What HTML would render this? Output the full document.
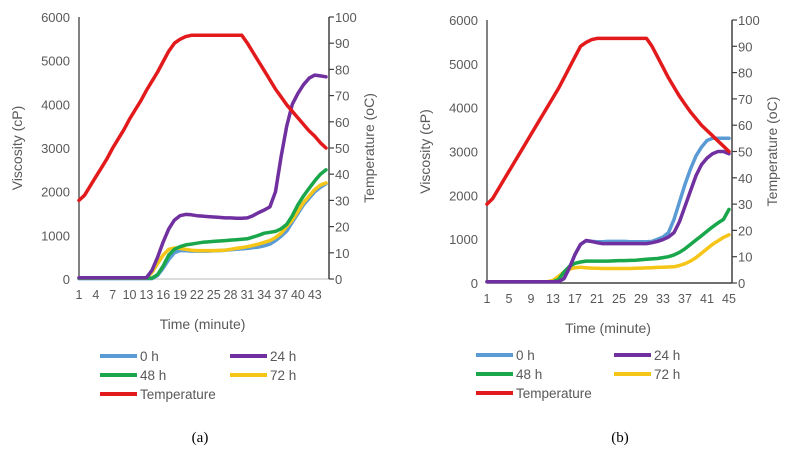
<!DOCTYPE html>
<html><head><meta charset="utf-8"><style>
body{margin:0;background:#fff;width:804px;height:452px;overflow:hidden}
svg{display:block}
text{font-family:"Liberation Sans",sans-serif;fill:#595959}
</style></head><body>
<svg id="s" width="804" height="452"></svg>
<script>
const temperatureA=[30,32,35.5,39,42.5,46,50,53.5,57,61,64.5,68,72,75.5,79,83,87,90,91.5,92.5,93,93,93,93,93,93,93,93,93,93,90,86.5,83,79.5,76,72.5,69.5,66.5,64,61.5,59,56.5,54.5,52,50];
const h24A=[30,30,30,30,30,30,30,30,30,30,30,30,30,200,500,850,1150,1350,1450,1480,1470,1450,1440,1430,1420,1410,1400,1400,1390,1390,1400,1450,1520,1580,1650,2000,2800,3500,4000,4250,4450,4600,4670,4650,4630];
const h48A=[20,20,20,20,20,20,20,20,20,20,20,20,20,20,100,300,550,680,740,780,800,820,840,850,860,870,880,890,900,910,920,960,1000,1050,1070,1090,1150,1250,1450,1700,1900,2080,2250,2400,2500];
const h72A=[20,20,20,20,20,20,20,20,20,20,20,20,20,150,350,550,680,710,700,680,660,650,650,650,650,655,660,680,700,720,740,770,800,840,880,950,1050,1200,1350,1550,1750,1900,2050,2150,2200];
const h0A=[10,10,10,10,10,10,10,10,10,10,10,10,10,10,80,250,450,600,650,650,640,640,640,640,645,650,660,670,680,690,700,720,730,760,800,880,980,1100,1300,1500,1700,1850,2000,2100,2180];
const temperatureB=[30,32,35.5,39,42.5,46,49.5,53,56.5,60,63.5,67,70.5,74,78,82,86,90,91.5,92.5,93,93,93,93,93,93,93,93,93,93,90,86,82,78,74.5,71,68,65,62.5,60,58,56,54,52,50];
const h24B=[30,30,30,30,30,30,30,30,30,30,30,30,30,30,100,350,650,880,970,950,920,900,900,900,900,900,900,900,900,900,920,950,990,1050,1150,1400,1750,2100,2450,2700,2850,2950,3000,3000,2950];
const h0B=[30,30,30,30,30,30,30,30,30,30,30,30,30,30,100,350,650,880,960,950,940,940,950,950,950,950,940,940,940,940,950,1000,1050,1150,1450,1850,2250,2600,2900,3100,3250,3300,3300,3300,3300];
const h48B=[30,30,30,30,30,30,30,30,30,30,30,30,30,80,250,380,450,480,500,500,500,500,500,505,510,510,515,520,530,540,550,560,580,600,640,700,780,880,980,1080,1180,1280,1370,1450,1680];
const h72B=[30,30,30,30,30,30,30,30,30,30,30,30,60,150,250,320,350,360,350,340,335,330,330,330,330,330,330,335,340,345,350,355,360,365,370,400,440,500,580,680,780,880,960,1040,1100];
const leftTicks=[0,1000,2000,3000,4000,5000,6000];
const rightTicks=[0,10,20,30,40,50,60,70,80,90,100];
const xLabelsA=[1,4,7,10,13,16,19,22,25,28,31,34,37,40,43];
const xLabelsB=[1,5,9,13,17,21,25,29,33,37,41,45];
const colors={h0:"#5b9bd5",h24:"#7030a0",h48:"#1aa64a",h72:"#f5c518",temp:"#e31a1c"};
const S=document.getElementById('s');
const NS="http://www.w3.org/2000/svg";
function el(t,a,p){const e=document.createElementNS(NS,t);for(const k in a)e.setAttribute(k,a[k]);(p||S).appendChild(e);return e;}
function chart(c){
  const g=el('g',{});
  
  
  const n=45;
  const X=t=>c.x0+(t-1)*(c.x1-c.x0)/(n-1);
  const YL=v=>c.y0-(v/6000)*(c.y0-c.y1);
  const YR=v=>c.y0-(v/100)*(c.y0-c.y1);
  const ax=el('line',{x1:c.x0,y1:c.y1,x2:c.x0,y2:c.y0,stroke:'#595959','stroke-width':1.5},g);
  
  const bx=el('line',{x1:c.x0,y1:c.y0,x2:c.x1+3,y2:c.y0,stroke:c.bottomColor,'stroke-width':1.5},g);
  
  const rx=el('line',{x1:c.x1+3,y1:c.y1,x2:c.x1+3,y2:c.y0,stroke:'#404040','stroke-width':1.5},g);
  
  leftTicks.forEach(v=>{const t=el('text',{x:c.x0-9,y:YL(v)+5,'text-anchor':'end','font-size':13},g);t.textContent=v;
    });
  rightTicks.forEach(v=>{el('line',{x1:c.x1+3,y1:YR(v),x2:c.x1+8,y2:YR(v),stroke:'#404040','stroke-width':1.2},g);
    const t=el('text',{x:c.x1+9,y:YR(v)+5,'font-size':13},g);t.textContent=v;
    });
  c.xl.forEach(v=>{const t=el('text',{x:X(v),y:c.y0+20,'text-anchor':'middle','font-size':12.5},g);t.textContent=v;
    });
  const yt=el('text',{x:0,y:0,'text-anchor':'middle','font-size':14,transform:`translate(${c.x0-57},${(c.y0+c.y1)/2}) rotate(-90)`},g);yt.textContent='Viscosity (cP)';
  
  const rt=el('text',{x:0,y:0,'text-anchor':'middle','font-size':14,transform:`translate(${c.x1+48},${(c.y0+c.y1)/2}) rotate(-90)`},g);rt.textContent='Temperature (oC)';
  
  const xt=el('text',{x:(c.x0+c.x1)/2,y:c.y0+50,'text-anchor':'middle','font-size':14},g);xt.textContent='Time (minute)';
  
  const series=[['h0',c.h0,YL],['h72',c.h72,YL],['h48',c.h48,YL],['h24',c.h24,YL],['temp',c.temp,YR]];
  series.forEach(([k,d,Y])=>{const p=el('polyline',{points:d.map((v,i)=>X(i+1).toFixed(1)+','+Y(v).toFixed(1)).join(' '),fill:'none',stroke:colors[k],'stroke-width':3.5,'stroke-linejoin':'round','stroke-linecap':'round'},g);
    });
  const leg=[['h0','0 h',0,0],['h24','24 h',1,0],['h48','48 h',0,1],['h72','72 h',1,1],['temp','Temperature',0,2]];
  leg.forEach(([k,lab,col,row])=>{const lx=c.lx[col],ly=c.ly+row*19;
    el('line',{x1:lx,y1:ly,x2:lx+37,y2:ly,stroke:colors[k],'stroke-width':4},g);
    const t=el('text',{x:lx+40,y:ly+5,'font-size':13.5},g);t.textContent=lab;
    });
  const cap=el('text',{x:c.cap,y:442,'text-anchor':'middle','font-size':15,style:'font-family:"Liberation Serif",serif;fill:#000'},g);cap.textContent=c.capText;
  
}
chart({name:'chart-a',x0:79,x1:326,y0:279,y1:17,bottomColor:'#d0d0d0',xl:xLabelsA,temp:temperatureA,h0:h0A,h24:h24A,h48:h48A,h72:h72A,lx:[100,230],ly:356,cap:200,capText:'(a)'});
chart({name:'chart-b',x0:487,x1:729,y0:283,y1:20,bottomColor:'#404040',xl:xLabelsB,temp:temperatureB,h0:h0B,h24:h24B,h48:h48B,h72:h72B,lx:[476,614],ly:355,cap:620,capText:'(b)'});
</script>
</body></html>
